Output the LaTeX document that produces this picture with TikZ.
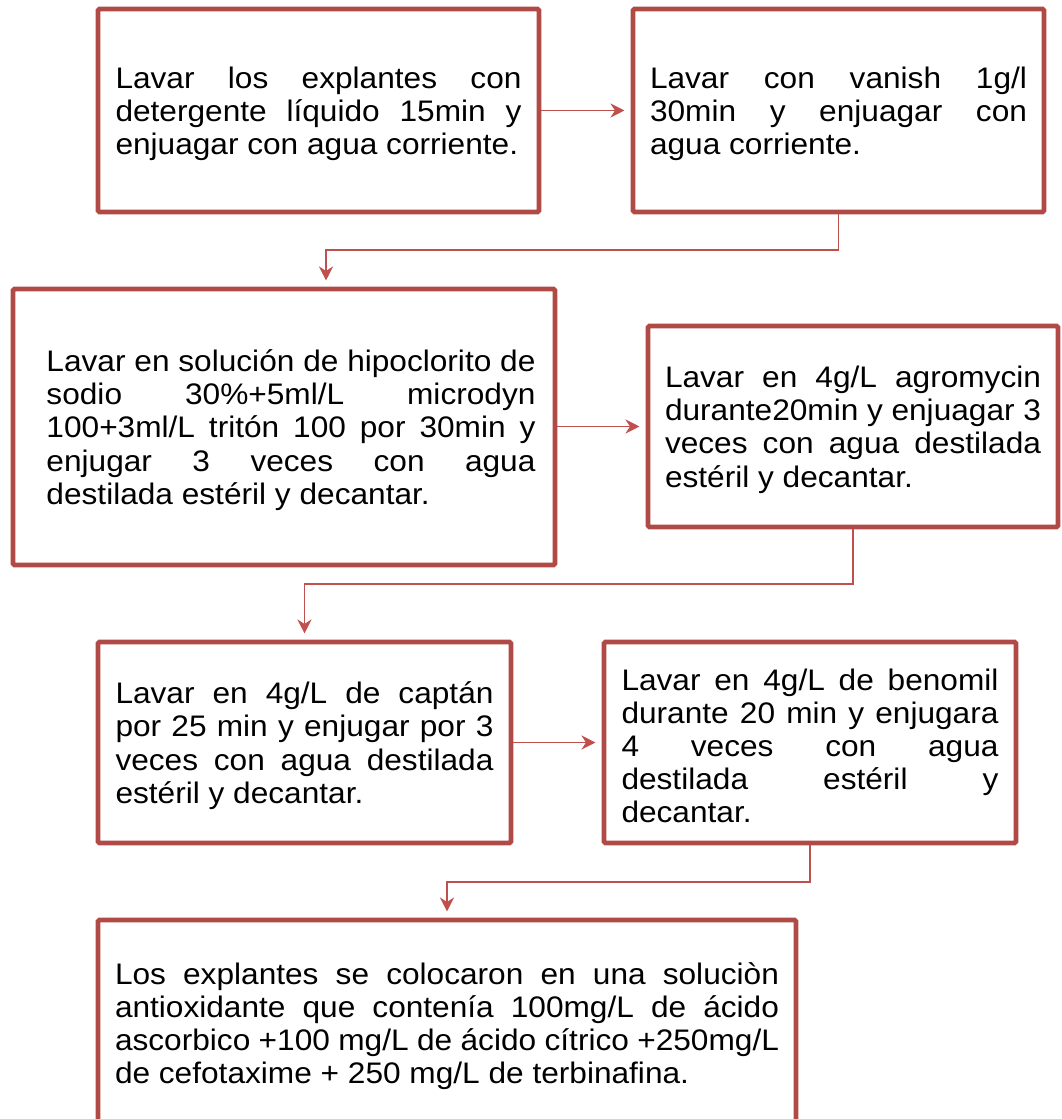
\documentclass[tikz,border=0pt]{standalone}
\usepackage{fontspec}
\setmainfont{Liberation Sans}[FakeStretch=1.065]
\usetikzlibrary{arrows.meta}
\definecolor{boxRed}{RGB}{176,74,71}
\definecolor{lineRed}{RGB}{192,80,77}
\tikzset{
	boxA/.style={
		draw=boxRed, line width=2.7pt, rounded corners=0.8pt, fill=white,
		inner sep=0pt, align=justify,
		font={\fontsize{16.9}{18.8}\selectfont},
		execute at begin node={\rule{0pt}{16pt}}
	},
	arrA/.style={
		draw=lineRed, line width=1.1pt,
		-{Stealth[length=8pt,width=8pt]}, shorten >=3.5pt
	},
}

\begin{document}
\begin{tikzpicture}
\useasboundingbox (0,0) rectangle (21.22,-22.38);
\node[boxA, minimum width=8.82cm, minimum height=4.06cm, text width=8.12cm] (lav1) at (6.37,-2.21)
	{Lavar los explantes con\linebreak detergente líquido 15min y\linebreak enjuagar con agua corriente.};
\node[boxA, minimum width=8.22cm, minimum height=4.06cm, text width=7.54cm] (lav2) at (16.77,-2.21)
	{Lavar con vanish 1g/l\linebreak 30min y enjuagar con\linebreak agua corriente.};
% text sits a little right of centre here
\node[boxA, minimum width=10.84cm, minimum height=5.52cm] (lav3) at (5.68,-8.54)
	{\hspace*{0.28cm}\parbox{9.78cm}{\rule{0pt}{16pt}Lavar en solución de hipoclorito de\linebreak sodio 30\%+5ml/L microdyn\linebreak 100+3ml/L tritón 100 por 30min y\linebreak enjugar 3 veces con agua\linebreak destilada estéril y decantar.}};
\node[boxA, minimum width=8.20cm, minimum height=4.02cm, text width=7.52cm] (lav4) at (17.06,-8.53)
	{Lavar en 4g/L agromycin\linebreak durante20min y enjuagar 3\linebreak veces con agua destilada\linebreak estéril y decantar.};
\node[boxA, minimum width=8.26cm, minimum height=4.02cm, text width=7.56cm] (lav5) at (6.09,-14.85)
	{Lavar en 4g/L de captán\linebreak por 25 min y enjugar por 3\linebreak veces con agua destilada\linebreak estéril y decantar.};
\node[boxA, minimum width=8.24cm, minimum height=4.02cm, text width=7.54cm] (lav6) at (16.20,-14.85)
	{Lavar en 4g/L de benomil\linebreak durante 20 min y enjugara\linebreak 4 veces con agua\linebreak destilada estéril y\linebreak decantar.};
\node[boxA, minimum width=13.96cm, minimum height=4.12cm, text width=13.28cm] (lav7) at (8.94,-20.46)
	{Los explantes se colocaron en una soluciòn\linebreak antioxidante que contenía 100mg/L de ácido\linebreak ascorbico +100 mg/L de ácido cítrico +250mg/L\linebreak de cefotaxime + 250 mg/L de terbinafina.};
% bends
\coordinate (k1) at (6.52,-5.00);
\coordinate (k2) at (6.09,-11.68);
\coordinate (k3) at (8.94,-17.64);
\draw[arrA] (lav1.east) -- (lav2.west);
\draw[arrA] (lav2.south) |- (k1) -- (k1 |- lav3.north);
\draw[arrA] (lav3.east |- lav4.west) -- (lav4.west);
\draw[arrA] (lav4.south) |- (k2) -- (lav5.north);
\draw[arrA] (lav5.east) -- (lav6.west);
\draw[arrA] (lav6.south) |- (k3) -- (lav7.north);
\end{tikzpicture}
\end{document}
